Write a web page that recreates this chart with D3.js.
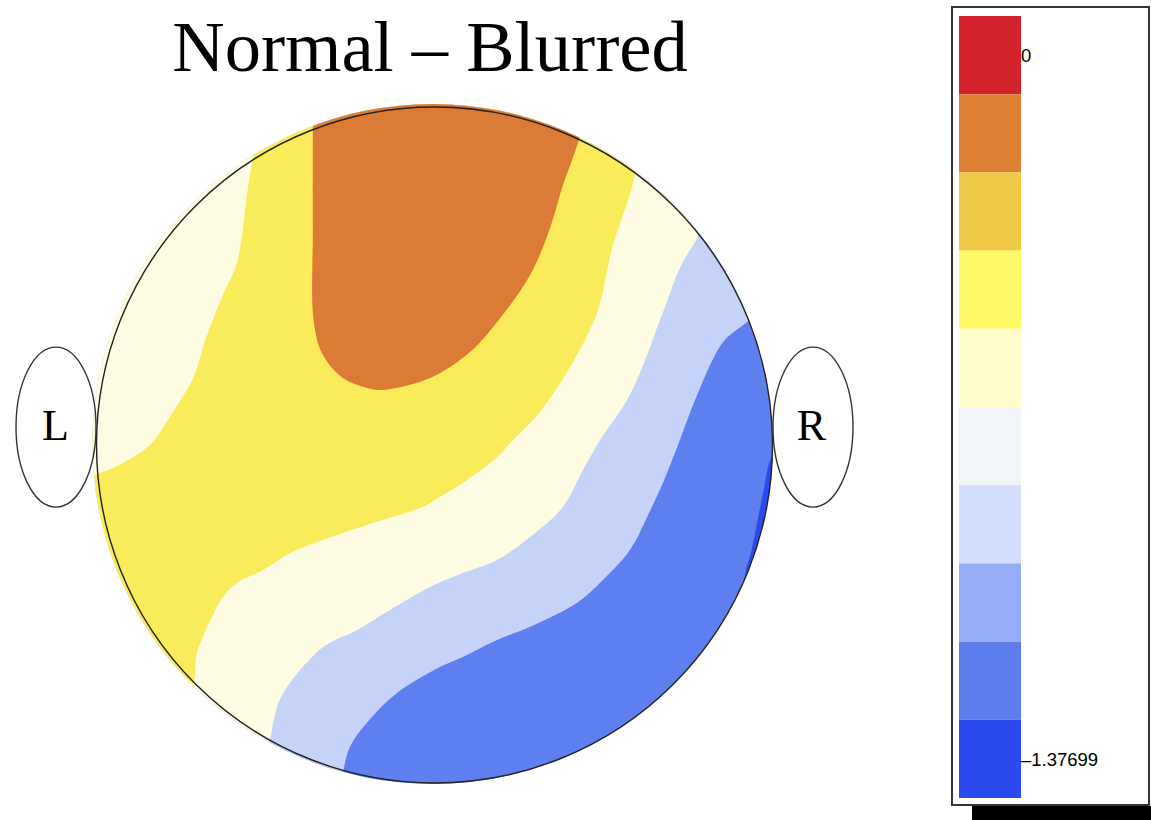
<!DOCTYPE html>
<html><head><meta charset="utf-8">
<script src="https://cdn.jsdelivr.net/npm/d3@7"></script>
<style>html,body{margin:0;padding:0;background:#fff} svg{display:block}</style>
</head><body>
<script>
// ---------------- data ----------------
const title = "Normal \u2013 Blurred";
const earLabels = ["L", "R"];
const earSides = [-1, 1];

const legendColors = ["#d3222b","#de8136","#f0c946","#fefb67","#fefdcb",
                      "#f1f5f8","#d1ddfb","#96acf5","#5e7eee","#2b4bee"];
const legendTickLabels = ["0", "\u20131.37699"];
const legendTickBands = [0, 9];

// contour lines in head coordinates (percent of head radius; x right, y up)
const lineOrange = [[-36,108],[-36,94],[-36,64],[-35.7,36.4],[-33,26.6],[-27.1,19.8],[-20,16.9],
  [-15.2,16.3],[-1.3,19.8],[10.5,27.5],[18.5,36.4],[28.3,50.3],[34.2,64.2],[38,76.9],[42.5,89.6],[46,104]];
const lineYellow = [[-73.8,-76.9],[-71.4,-71.6],[-70.3,-61.5],[-68.5,-56.8],[-62.6,-45],[-58.4,-40.8],
  [-50.7,-37],[-42.8,-32],[-33,-28.1],[-18.2,-23.1],[-3.4,-18.3],[1.6,-15.4],[8.4,-11.2],[18.5,-3.6],
  [23.2,1.5],[31.2,9.8],[41,24.6],[48.1,39.3],[52.8,59.2],[57.8,74],[59.3,79.9],[61.4,87.3]];
const linePocket = [[-53.1,90.2],[-54,83.7],[-55.5,74],[-58.4,54.1],[-62.6,44.4],[-67.3,32.5],
  [-71.4,19.8],[-77.4,9.8],[-84.2,0],[-92.2,-5.3],[-99,-8.3],[-103.4,-9.8]];
const linePale = [[-49.9,-91.7],[-48.7,-87.3],[-46.6,-77.5],[-43.6,-71.6],[-33,-59.8],[-22.9,-54.7],
  [-13.2,-48.8],[-1.3,-42],[8.4,-37.9],[18.5,-34],[28.3,-27.2],[38,-18.3],[43.9,-7.4],[49,1.5],
  [57.8,14.8],[67.6,39.3],[72.6,52.4],[77.7,61.2],[80,66]];
const lineLightBlue = [[-28,-102.1],[-27.1,-97],[-25,-89.3],[-20,-82.2],[-11.1,-73.4],[1.6,-65.7],
  [8.4,-62.7],[18.5,-57.7],[28.3,-53.8],[42.2,-46.7],[49.9,-39.9],[57.8,-31.1],[62.9,-21.3],
  [67.6,-11.2],[72.6,1.5],[77.7,14.8],[85.4,30.5],[92.5,36.4],[97.8,41.4]];
const lineDarkBlue = [[103.7,1.5],[99.6,-3.8],[97.4,-13.3],[95.6,-22.2],[93.8,-31.1],[91.8,-39.3],[92.6,-45.9]];

// points outside the head that close each region
const closeOrange = [[50,135],[-40,135]];
const closeYellow = [[70,135],[-135,135],[-135,-80]];
const closePocket = [[-135,-10],[-135,135],[-55,135]];
const closePale = [[110,135],[-135,135],[-135,-135],[-50,-135]];
const closeLightBlue = [[110,135],[-135,135],[-135,-135],[-28,-135]];
const closeDarkBlue = [[135,-50],[135,0]];

// ---------------- drawing ----------------
const W = 1151, H = 820;
const cx = 434.5, cy = 445, R = 338;

const svg = d3.select("body").append("svg").attr("width", W).attr("height", H);

const x = d3.scaleLinear().domain([-100, 100]).range([cx - R, cx + R]);
const y = d3.scaleLinear().domain([-100, 100]).range([cy + R, cy - R]);

const line = d3.line().x(d => x(d[0])).y(d => y(d[1])).curve(d3.curveCatmullRom.alpha(0.5));
const regionPath = (pts, close) =>
  line(pts) + close.map(p => `L${x(p[0])},${y(p[1])}`).join("") + "Z";

svg.append("defs").append("clipPath").attr("id", "head")
  .append("circle").attr("cx", x(0) - 2).attr("cy", y(0) - 1).attr("r", R + 2);

const layers = [
  {pts: lineLightBlue, close: closeLightBlue, color: "#c6d3f9"},
  {pts: linePale, close: closePale, color: "#fefde3"},
  {pts: lineYellow, close: closeYellow, color: "#faeb5a"},
  {pts: linePocket, close: closePocket, color: "#fefde3"},
  {pts: lineOrange, close: closeOrange, color: "#dc7b35"},
  {pts: lineDarkBlue, close: closeDarkBlue, color: "#2b4bee"}
];

const map = svg.append("g").attr("clip-path", "url(#head)");
map.append("rect").attr("x", x(-110)).attr("y", y(110)).attr("width", x(110) - x(-110))
  .attr("height", y(-110) - y(110)).attr("fill", "#5e7fef");
map.selectAll("path.band").data(layers).join("path").attr("class", "band")
  .attr("d", d => regionPath(d.pts, d.close)).attr("fill", d => d.color);

// head outline
svg.append("circle").attr("cx", x(0)).attr("cy", y(0)).attr("r", R)
  .attr("fill", "none").attr("stroke", "#222").attr("stroke-width", 1.4);

// ears
const earCY = y(5.3);
const ears = svg.selectAll("g.ear").data(earSides).join("g").attr("class", "ear");
ears.append("ellipse")
  .attr("cx", d => d < 0 ? x(-100) - 40.5 : x(100) + 40.5)
  .attr("cy", earCY).attr("rx", 40).attr("ry", 80)
  .attr("fill", "none").attr("stroke", "#333").attr("stroke-width", 1.4);
ears.append("text")
  .attr("x", d => d < 0 ? x(-100) - 41 : x(100) + 39)
  .attr("y", earCY + 13)
  .attr("text-anchor", "middle")
  .attr("font-family", "'Liberation Serif','Times New Roman',serif")
  .attr("font-size", 44).attr("fill", "#000")
  .text((d, i) => earLabels[i]);

// title
svg.append("text").attr("x", 430).attr("y", 71).attr("text-anchor", "middle")
  .attr("font-family", "'Liberation Serif','Times New Roman',serif")
  .attr("font-size", 72.5).attr("fill", "#000").text(title);

// legend
const lg = svg.append("g");
lg.append("rect").attr("x", 972).attr("y", 806).attr("width", 179).attr("height", 14).attr("fill", "#000");
lg.append("rect").attr("x", 952).attr("y", 7).attr("width", 197).attr("height", 798)
  .attr("fill", "#fff").attr("stroke", "#333").attr("stroke-width", 2);

const band = d3.scaleBand().domain(d3.range(legendColors.length)).range([16, 798]).padding(0);
lg.selectAll("rect.sw").data(legendColors).join("rect").attr("class", "sw")
  .attr("x", 959).attr("width", 62)
  .attr("y", (d, i) => band(i)).attr("height", band.bandwidth())
  .attr("fill", d => d);

lg.selectAll("text.tick").data(legendTickLabels).join("text").attr("class", "tick")
  .attr("x", 1021).attr("y", (d, i) => band(legendTickBands[i]) + band.bandwidth() / 2)
  .attr("dy", "0.36em")
  .attr("font-family", "'Liberation Sans',Arial,sans-serif").attr("font-size", 18.5)
  .attr("fill", "#000").text(d => d);
</script>
</body></html>
